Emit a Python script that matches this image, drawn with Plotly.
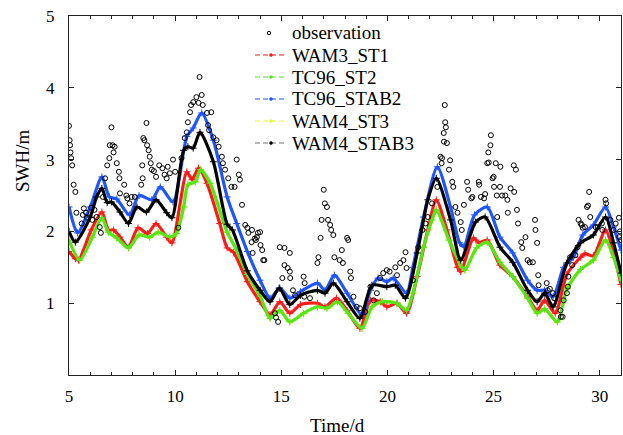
import plotly.graph_objects as go

# ---------------- data ----------------
t_wam3_st1 = [5.0, 5.3, 5.45, 6.05, 6.55, 6.85, 7.1, 7.4, 7.8, 8.25, 8.7, 9.1, 9.6, 9.85, 10.55, 10.8, 11.1, 11.5,
              12.1, 12.45, 12.75, 13.4, 14.0, 14.47, 14.93, 15.4, 15.9, 16.7, 17.06, 17.6, 18.1, 18.7, 19.2, 19.66,
              19.97, 20.45, 20.9, 21.4, 21.9, 22.3, 22.8, 23.3, 23.45, 24.05, 24.3, 24.7, 25.3, 25.9, 26.6, 27.05,
              27.4, 27.9, 28.45, 29.1, 29.3, 29.7, 30.27, 30.65, 31.0]
swh_wam3_st1 = [1.72, 1.62, 1.6, 2.02, 2.27, 2.02, 2.02, 1.92, 1.78, 2.05, 1.97, 2.11, 1.92, 1.84, 2.83, 2.72, 2.88, 2.67,
                2.11, 1.77, 1.71, 1.3, 1.02, 0.84, 1.02, 0.86, 0.98, 1.0, 0.95, 1.07, 0.9, 0.65, 1.04, 1.02,
                0.95, 1.0, 0.86, 1.37, 2.02, 2.44, 2.02, 1.5, 1.44, 1.91, 1.84, 1.88, 1.53, 1.37, 1.09, 0.9,
                1.04, 0.86, 1.4, 1.64, 1.69, 1.66, 2.02, 1.7, 1.26]

t_tc96_st2 = [5.0, 5.5, 6.1, 6.55, 6.85, 7.25, 7.8, 8.3, 8.8, 9.2, 9.75, 10.05, 10.4, 10.6, 10.95, 11.2, 11.65, 12.45,
              12.9, 13.4, 14.0, 14.47, 14.93, 15.4, 16.05, 16.7, 17.15, 17.65, 18.15, 18.8, 19.27, 19.75, 20.45, 20.9,
              21.2, 21.7, 22.1, 22.3, 22.9, 23.5, 23.65, 24.2, 24.7, 25.3, 25.9, 26.6, 27.05, 27.4, 28.0, 28.45,
              29.1, 29.7, 30.27, 30.65, 31.0]
swh_tc96_st2 = [1.88, 1.6, 1.92, 2.19, 1.99, 1.91, 1.77, 1.95, 1.92, 1.99, 1.92, 1.97, 2.34, 2.65, 2.69, 2.86, 2.67, 1.99,
                1.74, 1.4, 1.1, 0.79, 0.9, 0.74, 0.86, 0.95, 0.93, 1.02, 0.86, 0.65, 0.95, 1.02, 1.0, 0.9,
                1.14, 1.78, 2.16, 2.3, 1.88, 1.5, 1.46, 1.77, 1.85, 1.57, 1.37, 1.07, 0.86, 0.92, 0.74, 1.2,
                1.47, 1.6, 1.88, 1.64, 1.32]

t_tc96_stab2 = [5.0, 5.4, 6.0, 6.55, 6.9, 7.25, 7.85, 8.3, 8.9, 9.3, 9.9, 10.55, 10.85, 11.25, 11.8, 12.45, 12.9, 13.4,
                14.0, 14.47, 14.93, 15.4, 15.9, 16.7, 17.06, 17.5, 18.1, 18.8, 19.2, 19.56, 19.97, 20.27, 20.9, 21.2,
                21.7, 22.35, 22.97, 23.4, 23.6, 24.1, 24.7, 25.3, 25.9, 26.6, 27.05, 27.4, 27.8, 28.3, 28.76, 29.2,
                29.7, 30.27, 30.65, 31.0]
swh_tc96_stab2 = [2.34, 1.98, 2.34, 2.76, 2.48, 2.45, 2.23, 2.5, 2.44, 2.62, 2.41, 3.32, 3.44, 3.65, 3.27, 2.48, 2.11, 1.72,
                  1.32, 1.07, 1.21, 1.07, 1.16, 1.28, 1.18, 1.39, 1.14, 0.84, 1.18, 1.35, 1.3, 1.35, 1.14, 1.5,
                  2.2, 2.9, 2.34, 1.84, 1.79, 2.23, 2.34, 1.92, 1.7, 1.32, 1.18, 1.18, 1.09, 1.5, 1.64, 1.95,
                  2.09, 2.34, 2.06, 1.74]

t_wam4_st3 = [5.0, 5.5, 6.1, 6.55, 6.85, 7.25, 7.8, 8.3, 8.8, 9.2, 9.75, 10.05, 10.4, 10.6, 10.95, 11.2, 11.65, 12.45,
              12.9, 13.4, 14.0, 14.47, 14.93, 15.4, 16.05, 16.7, 17.15, 17.65, 18.15, 18.8, 19.27, 19.75, 20.45, 20.9,
              21.2, 21.7, 22.1, 22.3, 22.9, 23.5, 23.65, 24.2, 24.7, 25.3, 25.9, 26.6, 27.05, 27.4, 28.0, 28.45,
              29.1, 29.7, 30.27, 30.65, 31.0]
swh_wam4_st3 = [1.88, 1.6, 1.92, 2.19, 1.99, 1.91, 1.77, 1.95, 1.92, 1.99, 1.92, 1.97, 2.34, 2.65, 2.69, 2.86, 2.67, 1.99,
                1.74, 1.4, 1.1, 0.79, 0.9, 0.74, 0.86, 0.95, 0.93, 1.02, 0.86, 0.65, 0.95, 1.02, 1.0, 0.9,
                1.14, 1.78, 2.16, 2.3, 1.88, 1.5, 1.46, 1.77, 1.85, 1.57, 1.37, 1.07, 0.86, 0.92, 0.74, 1.2,
                1.47, 1.6, 1.88, 1.64, 1.32]

t_wam4_stab3 = [5.0, 5.3, 6.0, 6.3, 6.55, 6.8, 7.0, 7.4, 7.8, 8.2, 8.65, 9.1, 9.6, 9.85, 10.4, 10.6, 10.85, 11.17,
                11.8, 12.45, 12.7, 13.4, 14.0, 14.47, 14.9, 15.4, 15.9, 16.7, 17.06, 17.45, 18.1, 18.7, 19.27, 19.97,
                20.37, 20.85, 21.4, 21.9, 22.3, 22.97, 23.45, 24.15, 24.6, 25.3, 25.9, 26.6, 27.05, 27.4, 27.8, 28.45,
                29.1, 29.7, 30.27, 30.65, 31.0]
swh_wam4_stab3 = [2.0, 1.85, 2.2, 2.48, 2.6, 2.4, 2.41, 2.27, 2.11, 2.34, 2.27, 2.44, 2.26, 2.19, 3.13, 3.18, 3.16, 3.38,
                  2.97, 2.1, 2.02, 1.45, 1.18, 1.02, 1.21, 0.98, 1.11, 1.18, 1.14, 1.28, 1.02, 0.79, 1.25, 1.23,
                  1.25, 1.07, 1.7, 2.44, 2.74, 2.16, 1.6, 2.13, 2.2, 1.78, 1.57, 1.18, 1.02, 1.14, 0.95, 1.56,
                  1.84, 1.95, 2.2, 1.84, 1.42]

t_obs = [5.0, 5.03, 5.05, 5.07, 5.1, 5.15, 5.22, 5.3, 5.35, 5.6, 5.65, 5.7, 5.8, 5.85, 6.05, 6.1, 6.2, 6.3, 6.45, 6.5,
         6.6, 6.7, 6.8, 6.9, 6.92, 7.0, 7.05, 7.1, 7.15, 7.25, 7.35, 7.38, 7.4, 7.6, 7.7, 7.75, 7.85, 7.95, 8.1, 8.4,
         8.45, 8.47, 8.5, 8.55, 8.65, 8.68, 8.75, 8.8, 8.85, 8.9, 9.0, 9.1, 9.25, 9.4, 9.5, 9.6, 9.65, 9.75, 9.9, 10.0,
         10.15, 10.3, 10.45, 10.55, 10.6, 10.7, 10.75, 10.85, 11.0, 11.1, 11.15, 11.25, 11.3, 11.5, 11.55, 11.6, 11.7,
         11.8, 11.95, 12.05, 12.2, 12.25, 12.35, 12.5, 12.65, 12.8, 12.9, 13.0, 13.05, 13.15, 13.3, 13.4, 13.45, 13.6,
         13.62, 13.65, 13.75, 13.8, 13.85, 13.9, 14.0, 14.02, 14.1, 14.15, 14.2, 14.7, 14.75, 14.85, 14.93, 15.05,
         15.15, 15.15, 15.3, 15.4, 15.4, 15.42, 15.55, 15.65, 16.05, 16.08, 16.1, 16.35, 16.7, 16.75, 16.85, 16.9,
         17.0, 17.05, 17.15, 17.2, 17.3, 17.35, 17.45, 17.5, 17.75, 17.85, 17.9, 18.1, 18.15, 18.25, 18.28, 18.4,
         18.55, 18.7, 18.95, 19.2, 19.35, 19.5, 19.65, 19.8, 19.97, 20.1, 20.37, 20.45, 20.6, 20.75, 20.85, 20.9,
         21.2, 21.45, 21.65, 21.8, 21.9, 22.1, 22.35, 22.5, 22.55, 22.57, 22.65, 22.66, 22.7, 22.72, 22.75, 22.8,
         22.9, 22.95, 23.05, 23.1, 23.2, 23.3, 23.45, 23.5, 23.6, 23.75, 23.8, 23.95, 24.0, 24.3, 24.32, 24.4,
         24.55, 24.6, 24.7, 24.75, 24.77, 24.85, 24.87, 24.95, 25.0, 25.02, 25.1, 25.15, 25.17, 25.3, 25.32, 25.4,
         25.55, 25.65, 25.67, 25.8, 25.95, 25.97, 26.05, 26.1, 26.15, 26.3, 26.35, 26.5, 26.6, 26.7, 26.85, 26.95,
         26.97, 27.05, 27.1, 27.12, 27.5, 27.55, 27.65, 27.8, 27.85, 28.15, 28.17, 28.25, 28.3, 28.45, 28.5, 28.52,
         28.6, 28.7, 28.85, 28.95, 29.0, 29.1, 29.15, 29.2, 29.3, 29.4, 29.45, 29.5, 29.55, 29.8, 29.9, 30.1, 30.12,
         30.27, 30.3, 30.5, 30.65, 30.75, 30.9, 30.92, 30.95, 31.0]
swh_obs = [3.47, 3.27, 3.2, 3.1, 3.02, 2.92, 2.65, 2.55, 2.26, 2.11, 2.23, 2.32, 2.26, 2.19, 2.33, 2.16, 2.3, 2.2, 2.06,
           1.98, 2.48, 2.74, 2.92, 3.02, 3.2, 3.45, 3.2, 3.1, 3.18, 2.95, 2.83, 2.74, 2.53, 2.65, 2.5, 2.46, 2.39,
           2.48, 2.48, 2.65, 2.92, 2.74, 3.3, 3.27, 3.51, 3.2, 3.13, 3.04, 2.95, 2.86, 2.84, 2.76, 2.92, 2.88, 2.79,
           2.74, 2.9, 2.81, 3.0, 2.83, 2.05, 3.02, 3.3, 3.38, 3.52, 3.66, 3.76, 3.8, 3.87, 3.79, 4.15, 3.9, 3.76,
           3.65, 3.48, 3.41, 3.66, 3.31, 3.27, 3.18, 3.04, 2.95, 2.86, 2.74, 2.62, 2.62, 3.0, 2.79, 2.72, 2.37, 2.09,
           2.05, 1.98, 1.85, 2.02, 1.7, 1.9, 1.88, 1.92, 1.98, 1.99, 1.81, 1.74, 1.6, 1.6, 0.86, 0.8, 0.74, 1.78, 1.35,
           1.77, 1.53, 1.49, 1.7, 1.44, 1.35, 1.18, 1.11, 1.37, 1.09, 1.28, 1.07, 1.56, 1.64, 1.91, 2.16, 2.58, 2.39,
           2.34, 2.16, 2.09, 2.02, 1.95, 1.64, 1.6, 1.74, 1.56, 1.91, 1.88, 1.44, 1.35, 1.09, 0.95, 0.93, 0.88, 1.23,
           1.04, 1.14, 1.35, 1.42, 1.46, 1.44, 1.5, 1.39, 1.56, 1.6, 1.71, 1.49, 1.32, 1.78, 2.02, 2.11, 2.2, 2.39,
           2.62, 3.04, 2.95, 3.02, 3.37, 3.25, 3.76, 3.52, 3.45, 3.23, 2.86, 2.99, 2.69, 2.62, 2.34, 2.26, 2.13, 2.02,
           2.37, 2.69, 2.58, 2.46, 2.48, 2.69, 2.65, 2.48, 2.46, 2.52, 2.95, 3.1, 2.96, 3.2, 3.34, 2.74, 2.76, 2.62,
           2.95, 2.5, 2.2, 2.62, 2.9, 2.5, 2.5, 2.44, 2.26, 2.6, 2.92, 2.55, 2.86, 2.3, 2.11, 1.85, 1.77, 1.92, 1.6,
           1.57, 1.57, 2.16, 2.02, 1.84, 1.39, 1.25, 1.28, 1.18, 1.2, 1.14, 1.07, 0.9, 0.81, 0.81, 1.04, 1.14, 1.23,
           1.37, 1.64, 1.53, 1.67, 1.78, 2.16, 2.11, 2.09, 2.05, 2.06, 2.34, 2.36, 2.55, 2.2, 2.06, 2.06, 2.11, 2.02,
           2.44, 2.39, 2.16, 2.02, 2.11, 2.19, 1.92, 2.0, 1.88]

legend_labels = ["observation", "WAM3_ST1", "TC96_ST2", "TC96_STAB2", "WAM4_ST3", "WAM4_STAB3"]
x_ticks = [5, 10, 15, 20, 25, 30]
y_ticks = [1, 2, 3, 4, 5]

# ---------------- styling ----------------
FONT = "Liberation Serif"
W, H = 623, 435
ML, MR, MT, MB = 69, 2, 16, 60
PW, PH = W - ML - MR, H - MT - MB

colors = {
    "WAM3_ST1": "#ff1a1a",
    "TC96_ST2": "#55e61a",
    "TC96_STAB2": "#1f55ff",
    "WAM4_ST3": "#e6ff1a",
    "WAM4_STAB3": "#000000",
}
series_data = {
    "WAM3_ST1": (t_wam3_st1, swh_wam3_st1),
    "TC96_ST2": (t_tc96_st2, swh_tc96_st2),
    "TC96_STAB2": (t_tc96_stab2, swh_tc96_stab2),
    "WAM4_ST3": (t_wam4_st3, swh_wam4_st3),
    "WAM4_STAB3": (t_wam4_stab3, swh_wam4_stab3),
}

fig = go.Figure()

for name in ["WAM4_ST3", "WAM3_ST1", "TC96_ST2", "TC96_STAB2", "WAM4_STAB3"]:
    tx, ty = series_data[name]
    fig.add_trace(go.Scatter(
        x=tx, y=ty, mode="lines+markers", name=name, showlegend=False,
        line=dict(color=colors[name], width=3.2, shape="spline", smoothing=0.7),
        marker=dict(symbol="cross-thin", size=5, line=dict(width=1, color=colors[name]), color=colors[name]),
    ))

fig.add_trace(go.Scatter(
    x=t_obs, y=swh_obs, mode="markers", name="observation", showlegend=False,
    marker=dict(symbol="circle-open", size=5, color="black", line=dict(width=1, color="black")),
))

# ---------------- manual legend (layout positions in pixels -> paper) ----------------
def px2paper(xp, yp):
    return (xp - ML) / PW, (H - MB - yp) / PH

shapes = []
annotations = []
for i, lab in enumerate(legend_labels):
    yrow = 33 + 22 * i
    tx, ty = px2paper(290, yrow)
    annotations.append(dict(text=lab, xref="paper", yref="paper", x=tx, y=ty, xanchor="left",
                            yanchor="middle", showarrow=False,
                            font=dict(family=FONT, size=19, color="black")))
    if lab == "observation":
        cx, cy = 269, yrow
        x0, y0 = px2paper(cx - 1.7, cy + 1.7)
        x1, y1 = px2paper(cx + 1.7, cy - 1.7)
        shapes.append(dict(type="circle", xref="paper", yref="paper", x0=x0, y0=y0, x1=x1, y1=y1,
                           line=dict(color="black", width=1)))
    else:
        c = colors[lab]
        lc = "#777777" if lab == "WAM4_STAB3" else c
        x0, yy = px2paper(255, yrow)
        x1, _ = px2paper(287, yrow)
        shapes.append(dict(type="line", xref="paper", yref="paper", x0=x0, y0=yy, x1=x1, y1=yy,
                           line=dict(color=lc, width=1.2, dash="5px,3px")))
        dx0, dy0 = px2paper(269.5, yrow + 1.5)
        dx1, dy1 = px2paper(272.5, yrow - 1.5)
        shapes.append(dict(type="circle", xref="paper", yref="paper", x0=dx0, y0=dy0, x1=dx1, y1=dy1,
                           fillcolor=c, line=dict(color=c, width=0.5)))

# axis titles
ax, ay = px2paper(22, 161)
annotations.append(dict(text="SWH/m", xref="paper", yref="paper", x=ax, y=ay, textangle=-90,
                        showarrow=False, xanchor="center", yanchor="middle",
                        font=dict(family=FONT, size=19, color="black")))
bx, by = px2paper(337, 425)
annotations.append(dict(text="Time/d", xref="paper", yref="paper", x=bx, y=by,
                        showarrow=False, xanchor="center", yanchor="middle",
                        font=dict(family=FONT, size=19, color="black")))

axis_common = dict(
    showline=True, linecolor="#222", linewidth=1, mirror="ticks",
    ticks="inside", tickcolor="#222", ticklen=5, tickwidth=1,
    showgrid=False, zeroline=False,
    tickfont=dict(family=FONT, size=17, color="black"),
)

fig.update_xaxes(
    range=[5, 31], tickvals=x_ticks, ticklabelstandoff=6,
    minor=dict(ticks="inside", dtick=1, ticklen=3, tickcolor="#222", showgrid=False),
    **axis_common,
)
fig.update_yaxes(range=[0, 5], tickvals=y_ticks, ticklabelstandoff=10, **axis_common)

fig.update_layout(
    width=W, height=H,
    margin=dict(l=ML, r=MR, t=MT, b=MB),
    plot_bgcolor="white", paper_bgcolor="white",
    font=dict(family=FONT, size=17, color="black"),
    showlegend=False,
    shapes=shapes,
    annotations=annotations,
)

fig.write_html("out.html", config={"displayModeBar": False},
               post_script="document.body.style.margin='0';document.body.style.padding='0';")
